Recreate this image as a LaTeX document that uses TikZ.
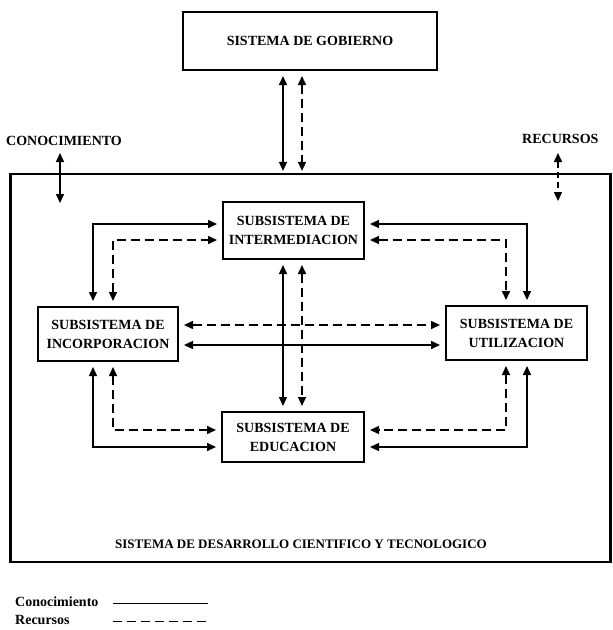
\documentclass[tikz,border=0pt]{standalone}
\usepackage{fontspec}
\setmainfont{Liberation Serif}
\usetikzlibrary{arrows.meta}
\begin{document}
\begin{tikzpicture}[x=1pt,y=-1pt,
  box/.style={draw, line width=2pt, font=\bfseries\fontsize{14}{19}\selectfont, align=center, inner sep=0pt},
  lbl/.style={font=\bfseries\fontsize{14}{15}\selectfont, inner sep=0pt},
  tip/.tip={Triangle[length=9pt,width=8pt]},
  conn/.style={line width=1.5pt, tip-tip, shorten <=5pt, shorten >=5pt},
  dsh/.style={conn, dash pattern=on 9pt off 5pt}]
\useasboundingbox (0,0) rectangle (613,630);
% boxes
\node[box, minimum width=254pt, minimum height=58pt] (gob) at (310,41) {SISTEMA DE GOBIERNO};
\node[draw, line width=2.2pt, minimum width=600pt, minimum height=388pt, inner sep=0pt] (outer) at (310.5,368) {};
\node[box, minimum width=141pt, minimum height=57pt] (inter) at (293.5,230.5) {SUBSISTEMA DE\\INTERMEDIACION};
\node[box, minimum width=140pt, minimum height=54pt] (inc) at (108,334) {SUBSISTEMA DE\\INCORPORACION};
\node[box, minimum width=141pt, minimum height=54pt] (uti) at (516.5,333) {SUBSISTEMA DE\\UTILIZACION};
\node[box, minimum width=142pt, minimum height=50pt] (edu) at (293,437) {SUBSISTEMA DE\\EDUCACION};
% labels
\node[lbl, anchor=west] (con) at (6,141) {CONOCIMIENTO};
\node[lbl, anchor=west] (rec) at (522,139) {RECURSOS};
\node[lbl, font=\bfseries\fontsize{13}{15}\selectfont] (title) at (301,544) {SISTEMA DE DESARROLLO CIENTIFICO Y TECNOLOGICO};
\node[lbl, anchor=west] (legc) at (15,602) {Conocimiento};
\node[lbl, anchor=west] (legr) at (15,620) {Recursos};
% lane coordinates
\coordinate (xS) at (283,0);
\coordinate (xD) at (302,0);
\coordinate (xLs) at (93,0);
\coordinate (xLd) at (113,0);
\coordinate (xRd) at (506,0);
\coordinate (xRs) at (527,0);
\coordinate (yTs) at (0,224);
\coordinate (yTd) at (0,240);
\coordinate (yBd) at (0,430);
\coordinate (yBs) at (0,447);
\coordinate (yMd) at (0,325);
\coordinate (yMs) at (0,345);
\coordinate (kTop) at (60,153);
\coordinate (kBot) at (60,203);
\coordinate (rTop) at (558,153);
\coordinate (rBot) at (558,201);
\coordinate (lc1) at (113,603);
\coordinate (lc2) at (208,603);
\coordinate (lr1) at (113,621);
\coordinate (lr2) at (208,621);
% government links
\draw[conn, shorten >=2pt] (gob.south -| xS) -- (outer.north -| xS);
\draw[dsh, shorten >=2pt] (gob.south -| xD) -- (outer.north -| xD);
% external inputs
\draw[conn, shorten <=0pt, shorten >=0pt] (kTop) -- (kBot);
\draw[dsh, shorten <=0pt, shorten >=0pt, dash pattern=on 6pt off 4pt] (rTop) -- (rBot);
% inter - inc
\draw[conn] (inc.north -| xLs) |- (inter.west |- yTs);
\draw[dsh] (inc.north -| xLd) |- (inter.west |- yTd);
% inter - uti
\draw[conn] (inter.east |- yTs) -| (uti.north -| xRs);
\draw[dsh] (inter.east |- yTd) -| (uti.north -| xRd);
% inc - edu
\draw[conn] (inc.south -| xLs) |- (edu.west |- yBs);
\draw[dsh] (inc.south -| xLd) |- (edu.west |- yBd);
% uti - edu
\draw[conn] (uti.south -| xRs) |- (edu.east |- yBs);
\draw[dsh] (uti.south -| xRd) |- (edu.east |- yBd);
% inc - uti
\draw[dsh] (inc.east |- yMd) -- (uti.west |- yMd);
\draw[conn] (inc.east |- yMs) -- (uti.west |- yMs);
% inter - edu
\draw[conn] (inter.south -| xS) -- (edu.north -| xS);
\draw[dsh] (inter.south -| xD) -- (edu.north -| xD);
% legend
\draw[line width=1pt] (lc1) -- (lc2);
\draw[line width=1pt, dash pattern=on 9pt off 5pt] (lr1) -- (lr2);
\end{tikzpicture}
\end{document}
